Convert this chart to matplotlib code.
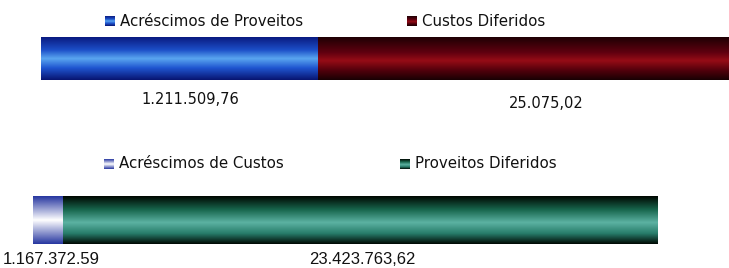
import numpy as np
import matplotlib.pyplot as plt
from matplotlib.colors import LinearSegmentedColormap

# Data
top_labels = ['Acréscimos de Proveitos', 'Custos Diferidos']
top_values = ['1.211.509,76', '25.075,02']
top_shares = [40.3, 59.7]   # segment lengths as drawn (% of bar)

bottom_labels = ['Acréscimos de Custos', 'Proveitos Diferidos']
bottom_values = ['1.167.372.59', '23.423.763,62']
bottom_shares = [4.8, 95.2]

# Vertical gradients (edge -> centre -> edge), like the shaded bars
blue = LinearSegmentedColormap.from_list('blue', [(0, '#0a1a80'), (0.3, '#1c4fc8'), (0.5, '#5aa6f0'), (0.72, '#1f55d0'), (1, '#081470')])
red = LinearSegmentedColormap.from_list('red', [(0, '#1e0004'), (0.35, '#5e000f'), (0.55, '#960c16'), (0.78, '#50000b'), (1, '#180003')])
lav = LinearSegmentedColormap.from_list('lav', [(0, '#2636a0'), (0.5, '#ffffff'), (1, '#2636a0')])
teal = LinearSegmentedColormap.from_list('teal', [(0, '#000600'), (0.28, '#17654c'), (0.55, '#5cb2a2'), (0.78, '#277c6a'), (1, '#000802')])

grad = np.linspace(0, 1, 256).reshape(-1, 1)

W, H = 729, 268
fig = plt.figure(figsize=(W / 100, H / 100), dpi=100)


def draw_bar(ax, shares, cmaps):
    left = 0
    for s, cm in zip(shares, cmaps):
        ax.imshow(grad, cmap=cm, aspect='auto', extent=(left, left + s, 1, 0), interpolation='bilinear')
        left += s
    ax.set_xlim(0, 100)
    ax.set_ylim(1, 0)
    ax.axis('off')


# top bar: x 41..729, y 37..80
ax1 = fig.add_axes([41 / W, 1 - 80 / H, (729 - 41) / W, 43 / H])
draw_bar(ax1, top_shares, [blue, red])

# bottom bar: x 33..657, y 196..244
ax2 = fig.add_axes([33 / W, 1 - 244 / H, (657 - 33) / W, 48 / H])
draw_bar(ax2, bottom_shares, [lav, teal])

# overlay in pixel coordinates for legends and value labels
ov = fig.add_axes([0, 0, 1, 1])
ov.set_xlim(0, W)
ov.set_ylim(H, 0)
ov.axis('off')


def legend_item(x, y, text, cm):
    ov.imshow(grad, cmap=cm, aspect='auto', extent=(x, x + 10, y + 5, y - 5), interpolation='bilinear')
    ov.text(x + 15, y, text, fontsize=10.8, va='center', ha='left', color='#111111', family='DejaVu Sans')


legend_item(105, 21, top_labels[0], blue)
legend_item(407, 21, top_labels[1], red)
legend_item(104, 164, bottom_labels[0], lav)
legend_item(400, 164, bottom_labels[1], teal)

ov.text(190, 100, top_values[0], fontsize=10.5, ha='center', va='center', color='#111111', family='DejaVu Sans')
ov.text(546, 103, top_values[1], fontsize=10.5, ha='center', va='center', color='#111111', family='DejaVu Sans')
ov.text(3, 259, bottom_values[0], fontsize=12, ha='left', va='center', color='#111111', family='Liberation Sans')
ov.text(362, 259, bottom_values[1], fontsize=12, ha='center', va='center', color='#111111', family='Liberation Sans')

ov.set_xlim(0, W)
ov.set_ylim(H, 0)

fig.savefig('out.png', dpi=100)
